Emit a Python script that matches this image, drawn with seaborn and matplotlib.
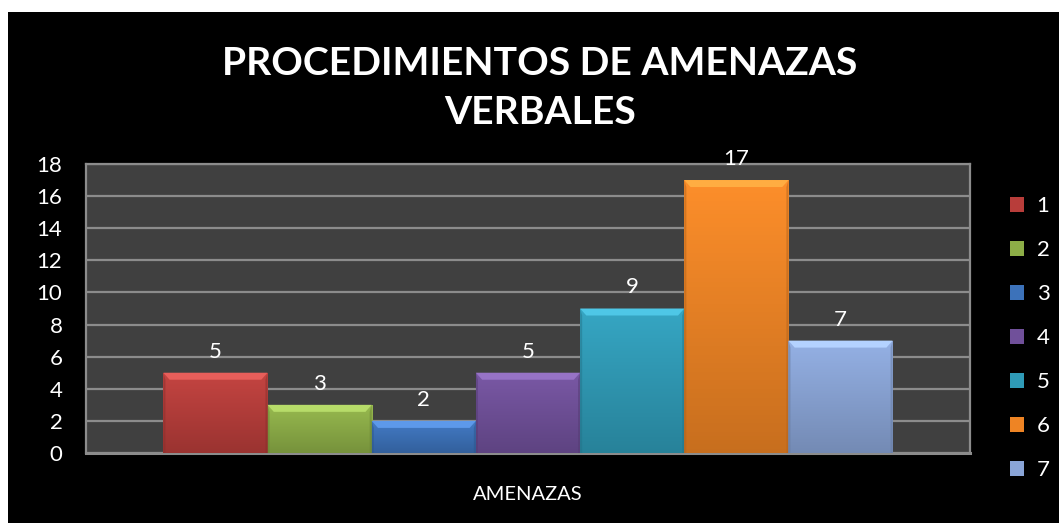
import numpy as np
import pandas as pd
import seaborn as sns
import matplotlib.pyplot as plt
from matplotlib.patches import Rectangle, Polygon
from matplotlib.colors import to_rgb

# Data
category = ["AMENAZAS"]
series = ["1", "2", "3", "4", "5", "6", "7"]
values = [5, 3, 2, 5, 9, 17, 7]
colors = ["#B83D3A", "#8DAE47", "#3C72BA", "#70509A", "#2F9BB7", "#EE8424", "#8AA5D7"]
title = "PROCEDIMIENTOS DE AMENAZAS\nVERBALES"

df = pd.DataFrame({"cat": category * len(series), "serie": series, "valor": values})

sns.set_theme(style="dark")
plt.rcParams["font.family"] = ["Lato", "DejaVu Sans"]

W, H = 1059, 523
fig = plt.figure(figsize=(W / 100, H / 100), dpi=100, facecolor="white")

# Black chart area inside the white frame
fig.patches.append(Rectangle((8 / W, 0), 1 - 8 / W, 1 - 12 / H, transform=fig.transFigure,
                             facecolor="black", edgecolor="none", zorder=-10))

ax = fig.add_axes([86 / W, 1 - 453 / H, (970 - 86) / W, (453 - 164) / H])
ax.set_facecolor("#404040")

sns.barplot(data=df, x="cat", y="valor", hue="serie", palette=colors, width=0.825,
            ax=ax, legend=True, saturation=1, edgecolor="none", linewidth=0, zorder=3)

ax.set_xlim(-0.5, 0.5)
ax.set_ylim(0, 18)
ax.set_yticks(np.arange(0, 19, 2))
ax.grid(axis="y", color="#8C8C8C", linewidth=1.6, zorder=1)
ax.grid(axis="x", visible=False)
for side, sp in ax.spines.items():
    sp.set_visible(True)
    sp.set_color("#8C8C8C")
    sp.set_linewidth(1.6)
ax.spines["bottom"].set_linewidth(2.2)

ax.tick_params(axis="y", colors="white", labelsize=16, length=0, pad=17)
ax.tick_params(axis="x", colors="white", labelsize=14.5, length=0, pad=24)
for t in ax.get_yticklabels():
    t.set_color("white")
ax.set_xlabel("")
ax.set_ylabel("")

# Bevel shading on each bar, derived from the drawn patches
upp = 18 / 289.0  # data units per pixel vertically
for cont in ax.containers:
    for p in cont.patches:
        x0, w, h = p.get_x(), p.get_width(), p.get_height()
        base = np.array(to_rgb(p.get_facecolor()))
        # vertical gradient: slightly lighter on top, darker at bottom
        grad = np.linspace(0, 1, 64).reshape(-1, 1)
        top_c = np.clip(base * 1.04 + 0.02, 0, 1)
        bot_c = base * 0.84
        img = bot_c[None, None, :] * (1 - grad[..., None]) + top_c[None, None, :] * grad[..., None]
        im = ax.imshow(img, extent=[x0, x0 + w, 0, h], origin="lower", aspect="auto", zorder=3.5)
        im.set_clip_path(p)
        bw = w * 0.06
        bh = 7 * upp
        light = np.clip(base * 1.12 + 0.1, 0, 1)
        ax.add_patch(Polygon([[x0, h], [x0 + w, h], [x0 + w - bw, h - bh], [x0 + bw, h - bh]],
                             closed=True, facecolor=light, edgecolor="none", zorder=4))
        dark = base * 0.75
        sw = w * 0.02
        ax.add_patch(Polygon([[x0, 0], [x0 + sw, 0], [x0 + sw, h - bh], [x0, h]],
                             closed=True, facecolor=dark, edgecolor="none", alpha=0.5, zorder=4))
        ax.add_patch(Polygon([[x0 + w, 0], [x0 + w - sw, 0], [x0 + w - sw, h - bh], [x0 + w, h]],
                             closed=True, facecolor=dark, edgecolor="none", alpha=0.5, zorder=4))
ax.set_xlim(-0.5, 0.5)
ax.set_ylim(0, 18)

for cont in ax.containers:
    labels = ax.bar_label(cont, labels=[f"{v:g}" for v in cont.datavalues], padding=8,
                          color="white", fontsize=16)
    for lb in labels:
        lb.set_clip_on(False)
        lb.set_zorder(6)

# Legend on the right
handles, labs = ax.get_legend_handles_labels()
leg = ax.legend(handles, labs, loc="upper left", bbox_to_anchor=(1010 / W, 1 - 196 / H),
                bbox_transform=fig.transFigure, frameon=False, fontsize=16,
                labelcolor="white", handlelength=0.65, handleheight=0.65,
                handletextpad=0.55, labelspacing=1.08, borderaxespad=0, borderpad=0)

fig.text(540 / W, 1 - 88 / H, title, ha="center", va="center", color="white",
         fontsize=28.2, fontweight="bold", linespacing=1.5)

fig.savefig("out.png", dpi=100, facecolor="white")
